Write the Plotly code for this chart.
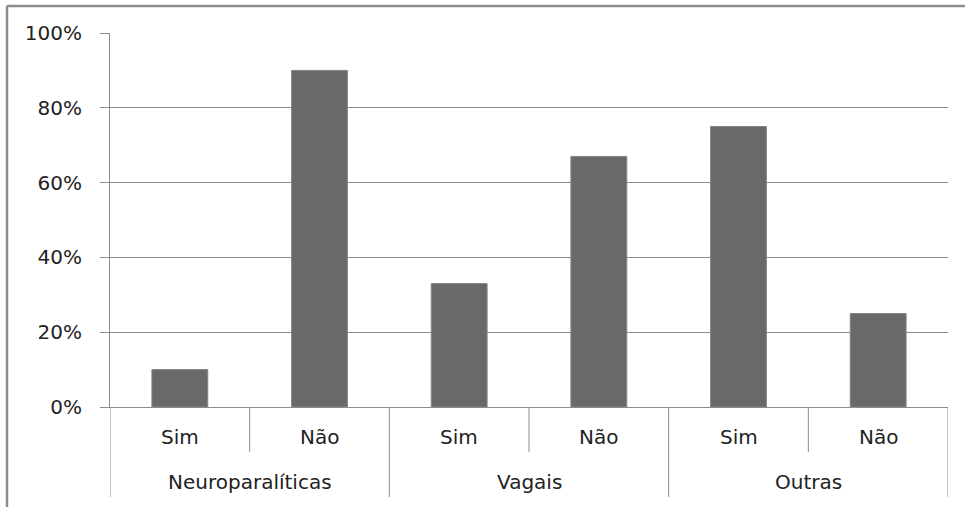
import plotly.graph_objects as go

groups = ["Neuroparalíticas", "Vagais", "Outras"]
answers = ["Sim", "Não"]
shares = [0.10, 0.90, 0.33, 0.67, 0.75, 0.25]
y_ticks = [0, 0.2, 0.4, 0.6, 0.8, 1.0]

W, H = 965, 507
L, R, T, B = 110, 17, 33, 100
pw, ph = W - L - R, H - T - B

axis_grey = "#8c8c8c"
font = dict(family="DejaVu Sans, sans-serif", size=20, color="#222222")

n_sub = len(answers)
positions = list(range(len(groups) * n_sub))
sub_labels = [answers[i % n_sub] for i in positions]

fig = go.Figure(
    go.Bar(
        x=positions,
        y=shares,
        marker=dict(color="#696969", line=dict(color="#858585", width=1)),
        hoverinfo="y",
    )
)

fig.update_layout(
    width=W,
    height=H,
    margin=dict(l=L, r=R, t=T, b=B),
    paper_bgcolor="white",
    plot_bgcolor="white",
    bargap=0.6,
    showlegend=False,
    font=font,
)

fig.update_yaxes(
    range=[0, 1],
    tickvals=y_ticks,
    tickformat=".0%",
    showgrid=True,
    gridcolor=axis_grey,
    gridwidth=1,
    showline=True,
    linecolor=axis_grey,
    linewidth=1,
    ticks="outside",
    ticklen=9,
    tickcolor=axis_grey,
    ticklabelstandoff=14,
    zeroline=False,
    tickfont=font,
)

fig.update_xaxes(
    range=[-0.5, len(positions) - 0.5],
    showticklabels=False,
    showgrid=False,
    zeroline=False,
    showline=True,
    linecolor=axis_grey,
    linewidth=1,
)

row1 = 30 / ph   # answer labels, below the axis
row2 = 75 / ph   # group labels
short_sep = 45 / ph
long_sep = 90 / ph

# answer labels and the short separators between them
for i, lab in zip(positions, sub_labels):
    fig.add_annotation(x=i, y=-row1, xref="x", yref="paper", text=lab, showarrow=False,
                       font=font, xanchor="center", yanchor="middle")

for b in range(len(positions) + 1):
    edge = b - 0.5
    is_group_edge = b % n_sub == 0
    fig.add_shape(type="line", xref="x", yref="paper", x0=edge, x1=edge, y0=0,
                  y1=-(long_sep if is_group_edge else short_sep),
                  line=dict(color=axis_grey, width=1))

# group labels centred under each pair of bars
for g, name in enumerate(groups):
    centre = g * n_sub + (n_sub - 1) / 2
    fig.add_annotation(x=centre, y=-row2, xref="x", yref="paper", text=name, showarrow=False,
                       font=font, xanchor="center", yanchor="middle")

# outer chart frame (top and left edges)
x0 = (7 - L) / pw
y0 = (H - B - 6) / ph
fig.add_shape(type="line", xref="paper", yref="paper", x0=x0, x1=(W - L + 5) / pw, y0=y0, y1=y0,
              line=dict(color=axis_grey, width=2.5))
fig.add_shape(type="line", xref="paper", yref="paper", x0=x0, x1=x0, y0=y0, y1=-(B + 5) / ph,
              line=dict(color=axis_grey, width=2.5))

fig.write_html("out.html")
